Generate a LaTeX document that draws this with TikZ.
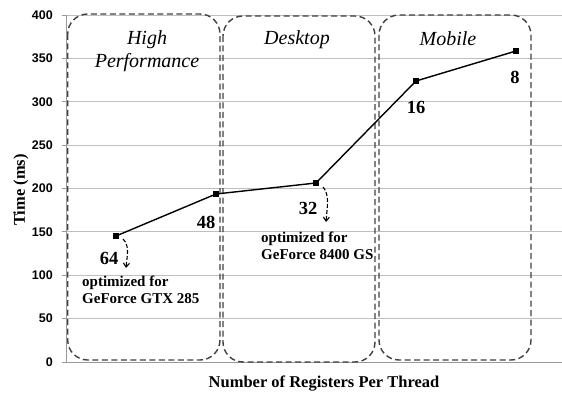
\documentclass[tikz,border=0pt]{standalone}
\usepackage{fontspec}
\setmainfont{Liberation Serif}
\newfontfamily\ticksfont{Liberation Sans}
\usetikzlibrary{arrows.meta}
\begin{document}
\begin{tikzpicture}[x=1pt,y=-1pt,
  gridline/.style={draw=black!25, line width=0.8pt},
  axisline/.style={draw=black!40, line width=0.8pt},
  region/.style={draw=black!75, line width=1.4pt, dash pattern=on 6pt off 3.5pt, rounded corners=20pt},
  ticklbl/.style={anchor=east, inner sep=0pt, font=\ticksfont\bfseries\fontsize{12.5}{12.5}\selectfont},
  datalbl/.style={inner sep=0pt, font=\bfseries\fontsize{18.5}{18.5}\selectfont},
  mk/.style={fill=black, minimum size=6pt, inner sep=0pt, draw=none},
  series/.style={draw=black, line width=1.4pt},
  regionlbl/.style={align=center, inner sep=0pt, font=\itshape\fontsize{20}{23}\selectfont},
  note/.style={align=left, anchor=north west, inner sep=0pt, font=\bfseries\fontsize{15}{17}\selectfont},
  darr/.style={draw=black, line width=1.1pt, dash pattern=on 4pt off 2pt, -{Straight Barb[length=4pt,width=6pt]}},
  axtitle/.style={inner sep=0pt, font=\bfseries\fontsize{16.5}{16.5}\selectfont}
]
\useasboundingbox (0,0) rectangle (562,393);
% gridlines and ticks
\foreach \v in {50,100,...,400}{
  \draw[gridline] (66.7,{362-\v*0.8675}) -- (562,{362-\v*0.8675});
}
\foreach \v in {0,50,...,400}{
  \draw[axisline] (62,{362-\v*0.8675}) -- (66.7,{362-\v*0.8675});
  \node[ticklbl] at (53,{362-\v*0.8675}) {\v};
}
\draw[axisline] (66.7,15) -- (66.7,362);
\draw[axisline] (66.7,362) -- (562,362);
% regions
\draw[region] (67.7,14) rectangle (220,360);
\draw[region] (223,16) rectangle (375,362);
\draw[region] (379,15) rectangle (531,360);
\node[regionlbl] (rhp) at (147,51) {High\\Performance};
\node[regionlbl] (rdt) at (297,40) {Desktop};
\node[regionlbl] (rmb) at (448,39) {Mobile};
% series
\node[mk] (p64) at (116,236) {};
\node[mk] (p48) at (216,194) {};
\node[mk] (p32) at (316,183) {};
\node[mk] (p16) at (416,81) {};
\node[mk] (p8) at (516,51) {};
\draw[series] (p64.center) -- (p48.center) -- (p32.center) -- (p16.center) -- (p8.center);
\node[datalbl] (l64) at (109,258) {64};
\node[datalbl] (l48) at (206,222) {48};
\node[datalbl] (l32) at (308,208) {32};
\node[datalbl] (l16) at (416,107) {16};
\node[datalbl] (l8) at (515,77) {8};
% notes
\node[note] (n1) at (82,276) {optimized for\\GeForce GTX 285};
\node[note] (n2) at (261,232) {optimized for\\GeForce 8400 GS};
\coordinate (a1s) at (123,239);
\coordinate (a1e) at (126,268);
\coordinate (a2s) at (323,187);
\coordinate (a2e) at (326,222);
\draw[darr] (a1s) .. controls (130,246) and (127,256) .. (a1e);
\draw[darr] (a2s) .. controls (330,195) and (327,208) .. (a2e);
% axis titles
\node[axtitle, rotate=90] (yt) at (21,190) {Time (ms)};
\node[axtitle] (xt) at (324,384) {Number of Registers Per Thread};
\end{tikzpicture}
\end{document}
